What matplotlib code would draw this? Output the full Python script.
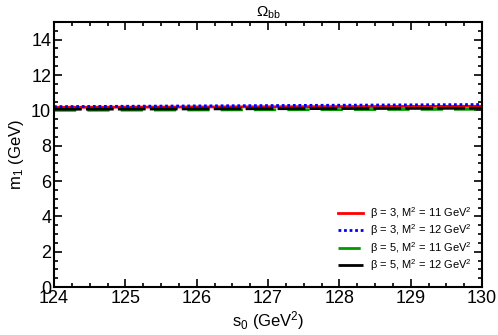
import numpy as np
import matplotlib
matplotlib.use("Agg")
import matplotlib.pyplot as plt
from matplotlib.ticker import MultipleLocator

plt.rcParams['font.family'] = ['Liberation Sans', 'DejaVu Sans']
plt.rcParams['mathtext.fontset'] = 'custom'
plt.rcParams['mathtext.rm'] = 'Liberation Sans'
plt.rcParams['mathtext.it'] = 'Liberation Sans'

s0 = [124, 125, 126, 127, 128, 129, 130]
m_b3_M11 = [10.17, 10.18, 10.19, 10.20, 10.21, 10.22, 10.23]
m_b3_M12 = [10.21, 10.23, 10.25, 10.27, 10.29, 10.31, 10.33]
m_b5_M11 = [10.00, 10.01, 10.02, 10.03, 10.04, 10.05, 10.06]
m_b5_M12 = [10.06, 10.07, 10.08, 10.09, 10.10, 10.11, 10.12]

labels = [r'$\mathregular{\beta}$ = 3, M$^2$ = 11 GeV$^2$',
          r'$\mathregular{\beta}$ = 3, M$^2$ = 12 GeV$^2$',
          r'$\mathregular{\beta}$ = 5, M$^2$ = 11 GeV$^2$',
          r'$\mathregular{\beta}$ = 5, M$^2$ = 12 GeV$^2$']

fig = plt.figure(figsize=(4.98, 3.35), dpi=100)
ax = fig.add_axes([54/498, 1-287/335, (482-54)/498, (287-22)/335])

ax.plot(s0, m_b3_M11, color='red', lw=2, ls='-', label=labels[0])
ax.plot(s0, m_b3_M12, color='blue', lw=2, ls=(0, (1, 1)), label=labels[1])
ax.plot(s0, m_b5_M11, color='#009900', lw=2, ls=(0, (8, 4)), label=labels[2])
ax.plot(s0, m_b5_M12, color='black', lw=2, ls=(0, (10, 1.5)), label=labels[3])

ax.set_xlim(124, 130)
ax.set_ylim(0, 15)
ax.xaxis.set_major_locator(MultipleLocator(1))
ax.xaxis.set_minor_locator(MultipleLocator(0.25))
ax.yaxis.set_major_locator(MultipleLocator(2))
ax.yaxis.set_minor_locator(MultipleLocator(0.5))
ax.tick_params(which='both', direction='in', top=True, right=True, width=1.2)
ax.tick_params(which='major', length=6, labelsize=13, pad=2)
ax.tick_params(which='minor', length=3)
for sp in ax.spines.values():
    sp.set_linewidth(1.5)

ax.set_xlabel(r'$\mathregular{s_0}$ (GeV$^2$)', fontsize=12, labelpad=2)
ax.set_ylabel(r'$\mathregular{m_1}$ (GeV)', fontsize=12, labelpad=4)
ax.set_title(r'$\mathregular{\Omega_{bb}}$', fontsize=11, pad=4)

leg = ax.legend(loc='lower right', fontsize=8, frameon=False, handlelength=2.3,
                handletextpad=0.6, labelspacing=0.15, bbox_to_anchor=(1.0, 0.015))

fig.savefig('out.png', dpi=100)
